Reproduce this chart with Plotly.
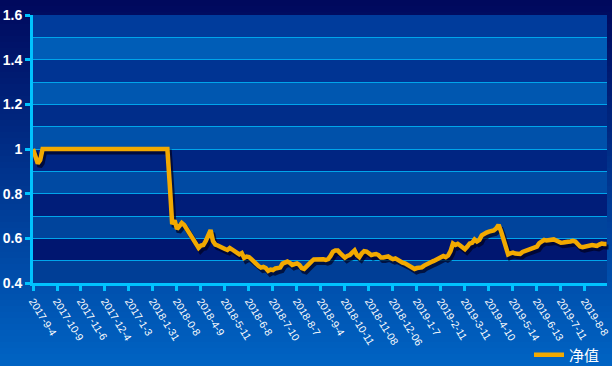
import plotly.graph_objects as go

# ---------------- data ----------------
tick_labels = ["2017-9-4", "2017-10-9", "2017-11-6", "2017-12-4", "2017-1-3", "2018-1-31",
               "2018-0-8", "2018-4-9", "2018-5-11", "2018-6-8", "2018-7-10", "2018-8-7",
               "2018-9-4", "2018-10-11", "2018-11-08", "2018-12-06", "2019-1-7", "2019-2-11",
               "2019-3-11", "2019-4-10", "2019-5-14", "2019-6-13", "2019-7-11", "2019-8-8"]
tick_positions = [0, 10, 20, 30, 40, 50, 60, 70, 80, 90, 100, 110,
                  120, 130, 140, 150, 160, 170, 180, 190, 200, 210, 220, 230]

nav_2017 = [1.0, 0.965, 0.935, 0.95, 1.0,
            1.0, 1.0, 1.0, 1.0, 1.0, 1.0, 1.0, 1.0, 1.0, 1.0,
            1.0, 1.0, 1.0, 1.0, 1.0, 1.0, 1.0, 1.0, 1.0, 1.0,
            1.0, 1.0, 1.0, 1.0, 1.0, 1.0, 1.0, 1.0, 1.0, 1.0,
            1.0, 1.0, 1.0, 1.0, 1.0, 1.0, 1.0, 1.0, 1.0, 1.0,
            1.0, 1.0, 1.0, 1.0, 1.0, 1.0, 1.0, 1.0, 1.0, 1.0,
            1.0, 1.0]
nav_2018a = [0.84, 0.664, 0.68, 0.642, 0.655, 0.669, 0.66, 0.642, 0.624, 0.602,
             0.59, 0.575, 0.557, 0.568, 0.57, 0.588, 0.619, 0.637, 0.588, 0.572,
             0.568, 0.561, 0.559, 0.552, 0.548, 0.557, 0.55, 0.543, 0.532, 0.528,
             0.534, 0.512, 0.518, 0.516, 0.507, 0.496, 0.483, 0.476, 0.469, 0.472,
             0.467, 0.454, 0.46, 0.458, 0.465, 0.466, 0.469, 0.487, 0.494, 0.496]
nav_2018b = [0.49, 0.481, 0.485, 0.488, 0.481, 0.467, 0.463, 0.476, 0.49, 0.496,
             0.505, 0.506, 0.503, 0.505, 0.506, 0.503, 0.507, 0.521, 0.54, 0.546,
             0.546, 0.534, 0.521, 0.514, 0.521, 0.525, 0.536, 0.546, 0.525, 0.516,
             0.532, 0.543, 0.541, 0.532, 0.525, 0.528, 0.53, 0.525, 0.514, 0.514,
             0.519, 0.519, 0.512, 0.507, 0.51, 0.503, 0.499, 0.491, 0.488, 0.483]
nav_2019 = [0.476, 0.469, 0.463, 0.467, 0.469, 0.47, 0.478, 0.485, 0.49, 0.494,
            0.499, 0.506, 0.512, 0.516, 0.521, 0.516, 0.523, 0.543, 0.577, 0.57,
            0.575, 0.568, 0.561, 0.551, 0.563, 0.577, 0.58, 0.595, 0.586, 0.593,
            0.613, 0.622, 0.626, 0.63, 0.63, 0.635, 0.644, 0.66, 0.633, 0.597,
            0.557, 0.528, 0.533, 0.536, 0.532, 0.53, 0.53, 0.539, 0.543, 0.548,
            0.55, 0.554, 0.557, 0.563, 0.579, 0.588, 0.593, 0.59, 0.593, 0.594,
            0.595, 0.59, 0.584, 0.58, 0.581, 0.585, 0.585, 0.586, 0.589, 0.586,
            0.572, 0.563, 0.56, 0.563, 0.566, 0.57, 0.57, 0.568, 0.566, 0.572,
            0.577, 0.575, 0.575]

nav = nav_2017 + nav_2018a + nav_2018b + nav_2019
point_index = list(range(len(nav)))
series_name = "净值"

# ---------------- layout constants ----------------
W, H = 612, 366
ML, MR, MT, MB = 33, 3, 15, 80
PW, PH = W - ML - MR, H - MT - MB     # 576 x 271
SDX, SDY = 2, 3                        # shadow offset px
XR = [0, 239.2]
YR = [0.4, 1.6]
cyan = "rgb(0,195,255)"
grid = "rgb(0,165,235)"
line_col = "#F2A900"

fig = go.Figure()
fig.add_trace(go.Scatter(x=point_index, y=nav, mode="lines", xaxis="x2", yaxis="y2",
                         line=dict(color="rgba(0,0,30,0.7)", width=5),
                         showlegend=False, hoverinfo="skip"))
fig.add_trace(go.Scatter(x=point_index, y=nav, mode="lines", xaxis="x3", yaxis="y3",
                         name=series_name, line=dict(color=line_col, width=4.5)))
fig.add_trace(go.Scatter(x=[None], y=[None], mode="lines", showlegend=False, hoverinfo="skip"))

shapes = []
# paper gradient
N = 61
top_c, bot_c = (0, 8, 92), (0, 100, 196)
for k in range(N):
    t = (k + 0.5) / N
    c = tuple(int(round(top_c[j] + (bot_c[j] - top_c[j]) * t)) for j in range(3))
    py0 = k * H / N
    py1 = (k + 1) * H / N + 1
    shapes.append(dict(type="rect", xref="paper", yref="paper", layer="below",
                       x0=(0 - ML) / PW - 0.01, x1=(W - ML) / PW + 0.01,
                       y0=(MT + PH - py1) / PH, y1=(MT + PH - py0) / PH,
                       fillcolor="rgb(%d,%d,%d)" % c, line=dict(width=0)))
# plot-area bands
light_top, light_bot = (0, 60, 148), (0, 98, 188)
dark_top, dark_bot = (0, 16, 106), (0, 62, 158)
for b in range(12):
    lo = 0.4 + 0.1 * b
    hi = lo + 0.1
    t = 1 - (b + 0.5) / 12
    if b % 2 == 0:
        a, z = light_bot, light_top
    else:
        a, z = dark_bot, dark_top
    c = tuple(int(round(a[j] + (z[j] - a[j]) * t)) for j in range(3))
    shapes.append(dict(type="rect", xref="x domain", yref="y", layer="below",
                       x0=0, x1=1, y0=lo, y1=hi,
                       fillcolor="rgb(%d,%d,%d)" % c, line=dict(width=0)))

main_xdom = [0, (PW - SDX) / PW]
main_ydom = [SDY / PH, 1]
sh_xdom = [SDX / PW, 1]
sh_ydom = [0, (PH - SDY) / PH]

fig.update_layout(
    width=W, height=H,
    margin=dict(l=ML, r=MR, t=MT, b=MB, pad=0, autoexpand=False),
    paper_bgcolor="rgb(0,60,150)",
    plot_bgcolor="rgba(0,0,0,0)",
    shapes=shapes,
    font=dict(family="Liberation Sans, Arial", color="white"),
    xaxis=dict(domain=main_xdom, anchor="y", range=XR, tickmode="array",
               tickvals=tick_positions, ticktext=tick_labels, tickangle=58,
               tickfont=dict(size=10.5, color="white", family="Liberation Sans, Arial"),
               showgrid=False, zeroline=False, showline=True, linecolor=cyan, linewidth=3,
               ticks="outside", ticklen=5, tickwidth=3, tickcolor=cyan, automargin=False,
               fixedrange=True),
    yaxis=dict(domain=main_ydom, anchor="x", range=YR, tick0=0.4, dtick=0.2,
               tickfont=dict(size=14, color="white", family="Liberation Sans, Arial", weight="bold"),
               showgrid=True, gridcolor=grid, gridwidth=1.2,
               minor=dict(dtick=0.1, tick0=0.4, showgrid=True, gridcolor=grid, gridwidth=1.2, ticks=""),
               zeroline=False, showline=True, linecolor=cyan, linewidth=3,
               ticks="outside", ticklen=5, tickwidth=3, tickcolor=cyan, automargin=False,
               fixedrange=True),
    xaxis2=dict(domain=sh_xdom, anchor="y2", range=XR, visible=False, fixedrange=True),
    yaxis2=dict(domain=sh_ydom, anchor="x2", range=YR, visible=False, fixedrange=True),
    xaxis3=dict(domain=main_xdom, anchor="y3", range=XR, visible=False, fixedrange=True),
    yaxis3=dict(domain=main_ydom, anchor="x3", range=YR, visible=False, fixedrange=True),
    showlegend=True,
    legend=dict(xref="container", yref="container", x=529 / W, y=11 / H,
                xanchor="left", yanchor="middle", bgcolor="rgba(0,0,0,0)",
                font=dict(size=15, color="white", family="Noto Sans CJK SC"),
                itemwidth=30),
)

fig.write_html("out.html", config={"displayModeBar": False},
               post_script="document.body.style.margin='0px';document.body.style.overflow='hidden';")
